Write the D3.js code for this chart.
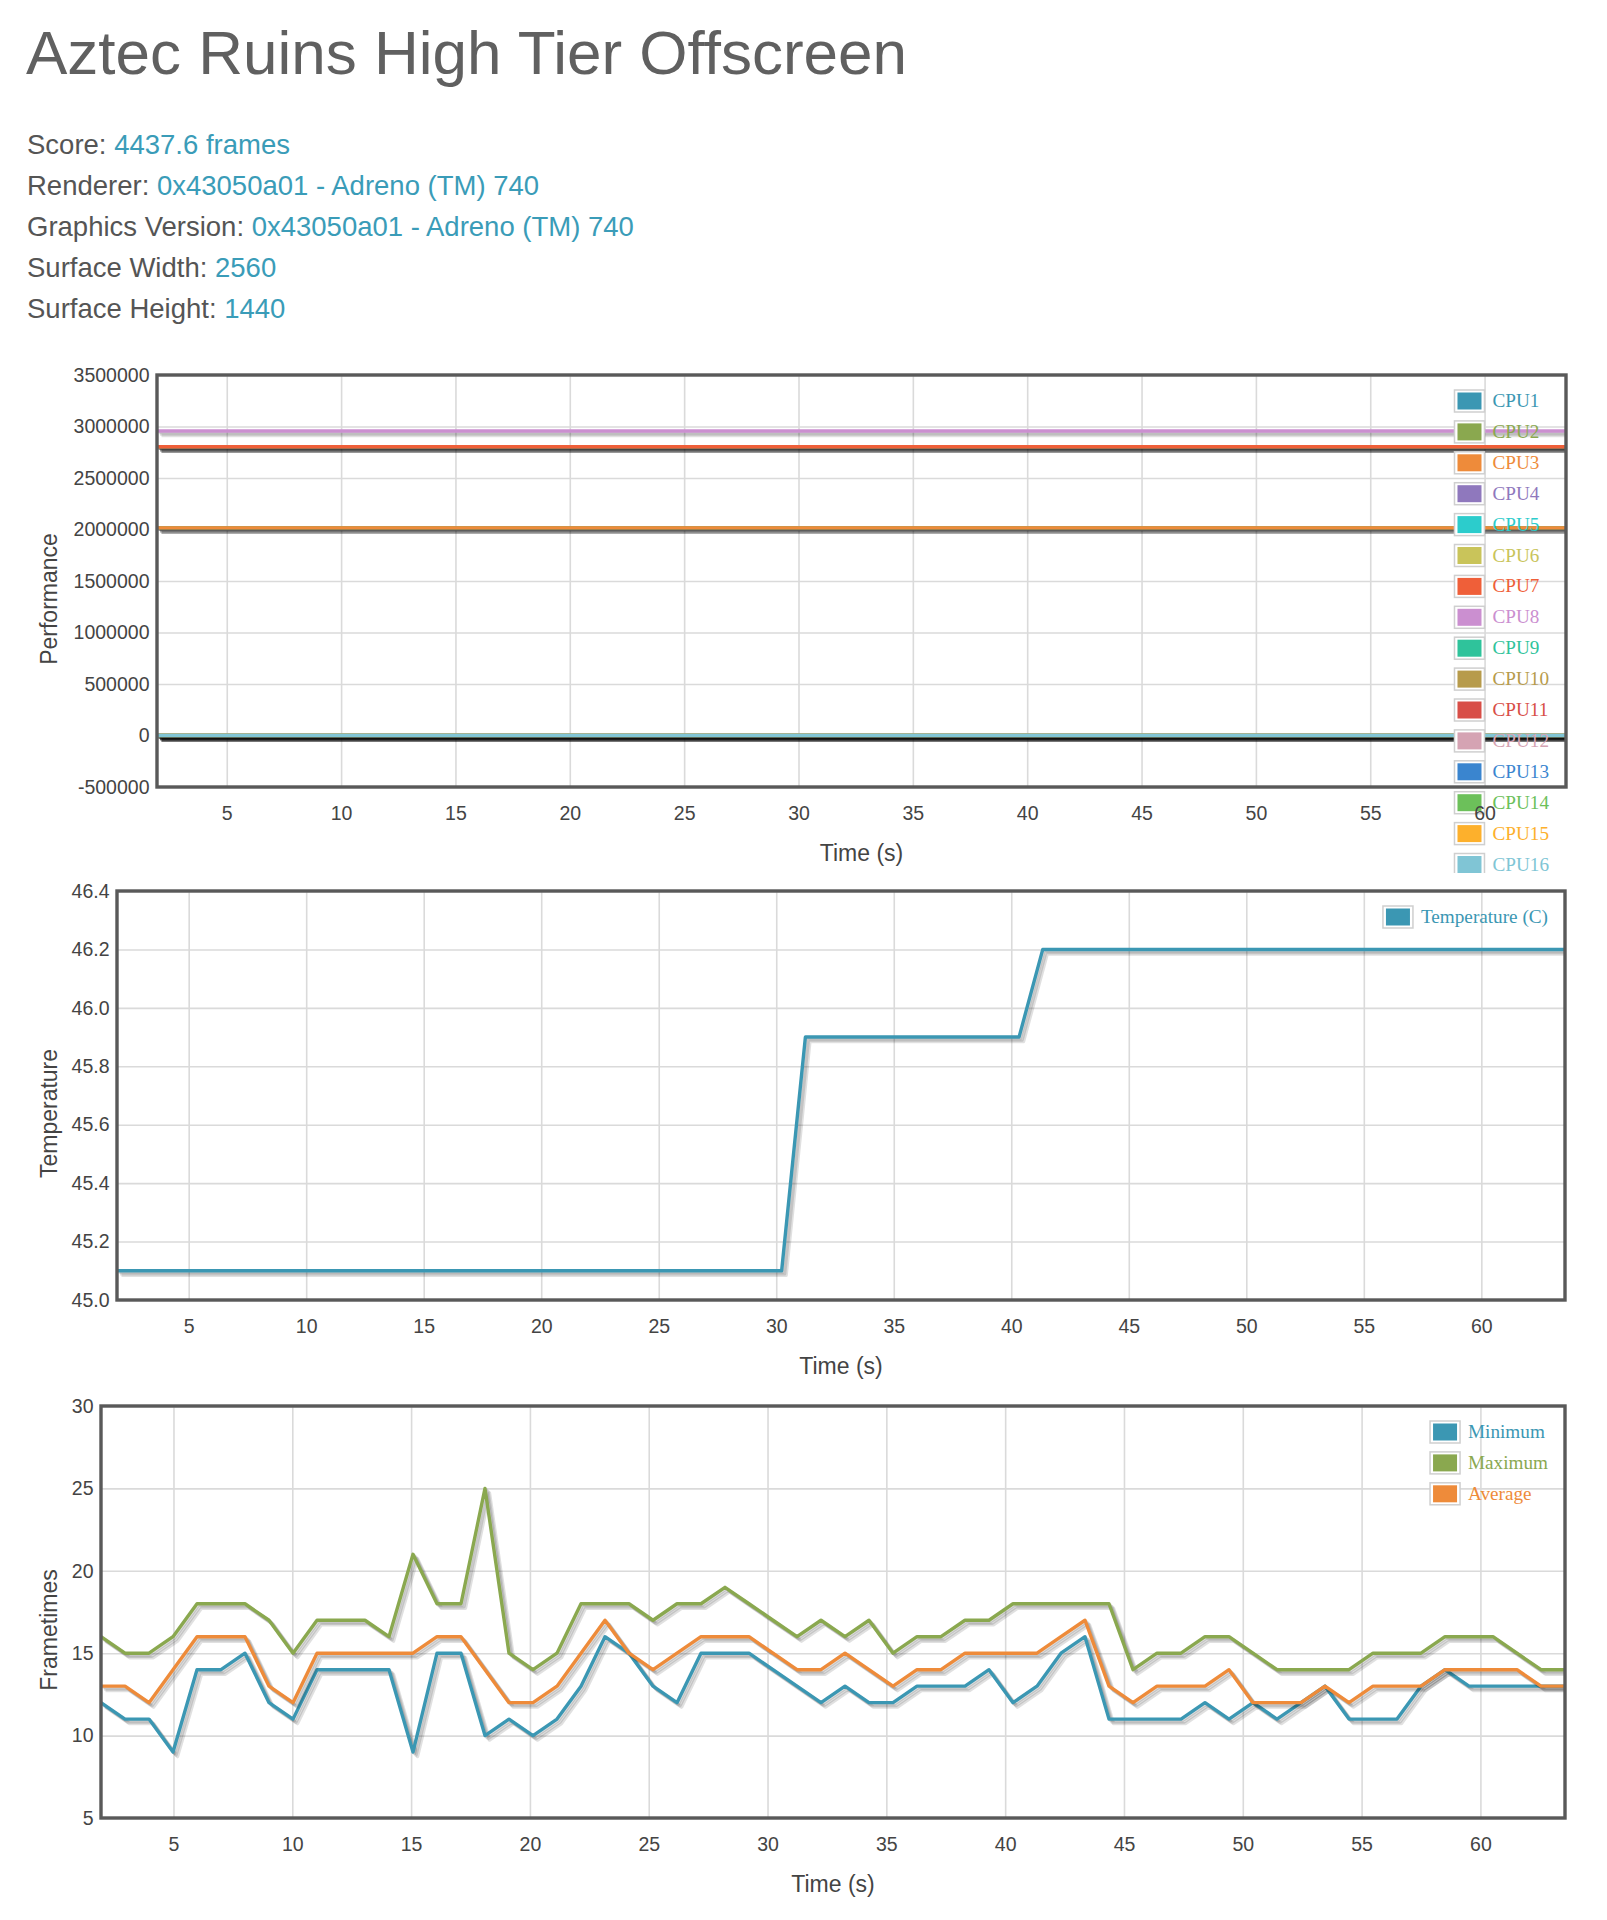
<!DOCTYPE html>
<html lang="en">
<head>
<meta charset="UTF-8">
<title>Aztec Ruins High Tier Offscreen</title>
<script src="https://cdnjs.cloudflare.com/ajax/libs/d3/7.8.5/d3.min.js"></script>
<style>
  body { margin: 0; background: #fff; }
  svg text { font-family: "Liberation Sans", Arial, Helvetica, sans-serif; }
  svg .legend text { font-family: "Liberation Serif", "Times New Roman", serif; }
</style>
</head>
<body>
<svg id="page" width="1607" height="1920"></svg>
<script>
// ---- data ----
const times = [1.95, 2.96, 3.97, 4.98, 5.99, 7.00, 8.01, 9.02, 10.03, 11.04, 12.05, 13.06, 14.07, 15.08, 16.09, 17.10,
  18.11, 19.12, 20.13, 21.14, 22.15, 23.16, 24.17, 25.18, 26.19, 27.20, 28.21, 29.22, 30.23, 31.24, 32.25, 33.26,
  34.27, 35.28, 36.29, 37.30, 38.31, 39.32, 40.33, 41.34, 42.35, 43.36, 44.37, 45.38, 46.39, 47.40, 48.41, 49.42,
  50.43, 51.44, 52.45, 53.46, 54.47, 55.48, 56.49, 57.50, 58.51, 59.52, 60.53, 61.54, 62.55, 63.56];

const xTicks = [5, 10, 15, 20, 25, 30, 35, 40, 45, 50, 55, 60];

const cpuNames = ["CPU1", "CPU2", "CPU3", "CPU4", "CPU5", "CPU6", "CPU7", "CPU8",
  "CPU9", "CPU10", "CPU11", "CPU12", "CPU13", "CPU14", "CPU15", "CPU16"];
const cpuColors = ["#3b97b3", "#8aa84f", "#ee8b3a", "#8f78bd", "#2ccccc", "#c9c45a", "#ef5f39", "#cb8fd0",
  "#2fc39b", "#b79b4b", "#d84e47", "#d5a3b3", "#3a85cf", "#6cc05a", "#fdb02c", "#80c5d5"];
// each core stays at one frequency for the whole run
const cpuFreq = [2016000, 2016000, 2016000, 2803200, 2803200, 2803200, 2803200, 2956800,
  0, 0, 0, 0, 0, 0, 0, 0];
const perfTicks = [-500000, 0, 500000, 1000000, 1500000, 2000000, 2500000, 3000000, 3500000];

const temperature = [45.1, 45.1, 45.1, 45.1, 45.1, 45.1, 45.1, 45.1, 45.1, 45.1, 45.1, 45.1, 45.1, 45.1, 45.1,
  45.1, 45.1, 45.1, 45.1, 45.1, 45.1, 45.1, 45.1, 45.1, 45.1, 45.1, 45.1, 45.1, 45.1,
  45.9, 45.9, 45.9, 45.9, 45.9, 45.9, 45.9, 45.9, 45.9, 45.9,
  46.2, 46.2, 46.2, 46.2, 46.2, 46.2, 46.2, 46.2, 46.2, 46.2, 46.2, 46.2, 46.2, 46.2, 46.2, 46.2,
  46.2, 46.2, 46.2, 46.2, 46.2, 46.2, 46.2];
const tempTicks = [45.0, 45.2, 45.4, 45.6, 45.8, 46.0, 46.2, 46.4];

const frameMin = [12, 11, 11, 9, 14, 14, 15, 12, 11, 14, 14, 14, 14, 9, 15, 15, 10, 11, 10, 11, 13, 16,
  15, 13, 12, 15, 15, 15, 14, 13, 12, 13, 12, 12, 13, 13, 13, 14, 12, 13, 15, 16,
  11, 11, 11, 11, 12, 11, 12, 11, 12, 13, 11, 11, 11, 13, 14, 13, 13, 13, 13, 13];
const frameMax = [16, 15, 15, 16, 18, 18, 18, 17, 15, 17, 17, 17, 16, 21, 18, 18, 25, 15, 14, 15, 18, 18,
  18, 17, 18, 18, 19, 18, 17, 16, 17, 16, 17, 15, 16, 16, 17, 17, 18, 18, 18, 18,
  18, 14, 15, 15, 16, 16, 15, 14, 14, 14, 14, 15, 15, 15, 16, 16, 16, 15, 14, 14];
const frameAvg = [13, 13, 12, 14, 16, 16, 16, 13, 12, 15, 15, 15, 15, 15, 16, 16, 14, 12, 12, 13, 15, 17,
  15, 14, 15, 16, 16, 16, 15, 14, 14, 15, 14, 13, 14, 14, 15, 15, 15, 15, 16, 17,
  13, 12, 13, 13, 13, 14, 12, 12, 12, 13, 12, 13, 13, 13, 14, 14, 14, 14, 13, 13];
const frameTicks = [5, 10, 15, 20, 25, 30];

const infoLabels = ["Score: ", "Renderer: ", "Graphics Version: ", "Surface Width: ", "Surface Height: "];
const infoValues = ["4437.6 frames", "0x43050a01 - Adreno (TM) 740", "0x43050a01 - Adreno (TM) 740", "2560", "1440"];

// plain hyphen for negatives, like the original labels
const fmt = d3.formatLocale({ decimal: ".", thousands: ",", grouping: [3], currency: ["$", ""], minus: "-" });

// ---- page ----
const svg = d3.select("#page");
svg.append("rect").attr("width", 1607).attr("height", 1920).attr("fill", "#fff");

svg.append("text")
  .attr("x", 26).attr("y", 74)
  .attr("font-size", 62).attr("fill", "#606060")
  .text("Aztec Ruins High Tier Offscreen");

infoLabels.forEach((lab, i) => {
  const t = svg.append("text")
    .attr("x", 27).attr("y", 154 + i * 41)
    .attr("font-size", 27.5);
  t.append("tspan").attr("fill", "#555").text(lab);
  t.append("tspan").attr("fill", "#3a9cb8").text(infoValues[i]);
});

let clipCount = 0;

function drawChart(cfg) {
  const g = svg.append("g");
  const x = d3.scaleLinear().domain(d3.extent(times)).range([cfg.left, cfg.right]);
  const y = d3.scaleLinear().domain(d3.extent(cfg.yTicks)).range([cfg.bottom, cfg.top]);
  const h = cfg.bottom - cfg.top, w = cfg.right - cfg.left;

  // grid
  g.append("g")
    .attr("transform", `translate(0,${cfg.bottom})`)
    .call(d3.axisBottom(x).tickValues(xTicks).tickSize(-h).tickFormat(""))
    .call(a => a.select(".domain").remove())
    .selectAll("line").attr("stroke", "#dadada").attr("stroke-width", 1.6);
  g.append("g")
    .attr("transform", `translate(${cfg.left},0)`)
    .call(d3.axisLeft(y).tickValues(cfg.yTicks).tickSize(-w).tickFormat(""))
    .call(a => a.select(".domain").remove())
    .selectAll("line").attr("stroke", "#dadada").attr("stroke-width", 1.6);

  // series, each with a soft drop shadow
  const id = "clip" + (clipCount++);
  g.append("clipPath").attr("id", id)
    .append("rect").attr("x", cfg.left).attr("y", cfg.top).attr("width", w).attr("height", h);
  const plot = g.append("g").attr("clip-path", `url(#${id})`);
  const line = d3.line().x((d, i) => x(times[i])).y(d => y(d));
  cfg.series.forEach(s => {
    for (let j = 1; j <= 3; j++) {
      plot.append("path").datum(s.values)
        .attr("d", line).attr("fill", "none")
        .attr("stroke", "#000").attr("stroke-opacity", 0.12).attr("stroke-width", 3.4)
        .attr("stroke-linejoin", "round")
        .attr("transform", `translate(${1.5 * j},${1.5 * j})`);
    }
    plot.append("path").datum(s.values)
      .attr("d", line).attr("fill", "none")
      .attr("stroke", s.color).attr("stroke-width", 3.4)
      .attr("stroke-linejoin", "round");
  });

  // frame
  g.append("rect")
    .attr("x", cfg.left).attr("y", cfg.top).attr("width", w).attr("height", h)
    .attr("fill", "none").attr("stroke", "#595959").attr("stroke-width", 3.4);

  // legend
  let leg = g.append("g").attr("class", "legend");
  if (cfg.legendBottom) {
    const lid = "clip" + (clipCount++);
    g.append("clipPath").attr("id", lid)
      .append("rect").attr("x", 0).attr("y", 0).attr("width", 1607).attr("height", cfg.legendBottom);
    leg.attr("clip-path", `url(#${lid})`);
  }
  const rows = leg.selectAll("g").data(cfg.series).join("g")
    .attr("transform", (d, i) => `translate(0,${cfg.top + 15 + i * 30.9})`);
  const labels = rows.append("text")
    .attr("y", 17).attr("font-size", 19.2)
    .attr("fill", d => d.color).text(d => d.name);
  const maxW = d3.max(labels.nodes(), n => n.getComputedTextLength());
  const textX = cfg.right - 17 - maxW;
  labels.attr("x", textX);
  rows.append("rect")
    .attr("x", textX - 38).attr("y", 0).attr("width", 30).attr("height", 22)
    .attr("fill", "#fff").attr("stroke", "#cfcfcf").attr("stroke-width", 1.5);
  rows.append("rect")
    .attr("x", textX - 35).attr("y", 2.5).attr("width", 24).attr("height", 17)
    .attr("fill", d => d.color);

  // tick labels
  const xa = g.append("g")
    .attr("transform", `translate(0,${cfg.bottom})`)
    .call(d3.axisBottom(x).tickValues(xTicks).tickSize(0).tickPadding(19));
  const ya = g.append("g")
    .attr("transform", `translate(${cfg.left},0)`)
    .call(d3.axisLeft(y).tickValues(cfg.yTicks).tickSize(0).tickPadding(7.5).tickFormat(cfg.yFormat));
  [xa, ya].forEach(a => {
    a.select(".domain").remove();
    a.attr("font-family", null).attr("font-size", null);
    a.selectAll("text").attr("font-size", 19.5).attr("fill", "#444");
  });

  // axis titles
  g.append("text")
    .attr("x", (cfg.left + cfg.right) / 2).attr("y", cfg.bottom + 74)
    .attr("text-anchor", "middle").attr("font-size", 23).attr("fill", "#444")
    .text("Time (s)");
  g.append("text")
    .attr("transform", `translate(57,${(cfg.top + cfg.bottom) / 2 + 18}) rotate(-90)`)
    .attr("text-anchor", "middle").attr("font-size", 23).attr("fill", "#444")
    .text(cfg.yTitle);
}

drawChart({
  left: 157, right: 1566, top: 375, bottom: 787,
  yTicks: perfTicks, yFormat: fmt.format("d"), yTitle: "Performance",
  legendBottom: 873,
  series: cpuNames.map((n, i) => ({ name: n, color: cpuColors[i], values: times.map(() => cpuFreq[i]) }))
});

drawChart({
  left: 117, right: 1565, top: 891, bottom: 1300,
  yTicks: tempTicks, yFormat: fmt.format(".1f"), yTitle: "Temperature",
  series: [{ name: "Temperature (C)", color: "#3b97b3", values: temperature }]
});

drawChart({
  left: 101, right: 1565, top: 1406, bottom: 1818,
  yTicks: frameTicks, yFormat: fmt.format("d"), yTitle: "Frametimes",
  series: [
    { name: "Minimum", color: "#3b97b3", values: frameMin },
    { name: "Maximum", color: "#8aa84f", values: frameMax },
    { name: "Average", color: "#ee8b3a", values: frameAvg }
  ]
});
</script>
</body>
</html>
